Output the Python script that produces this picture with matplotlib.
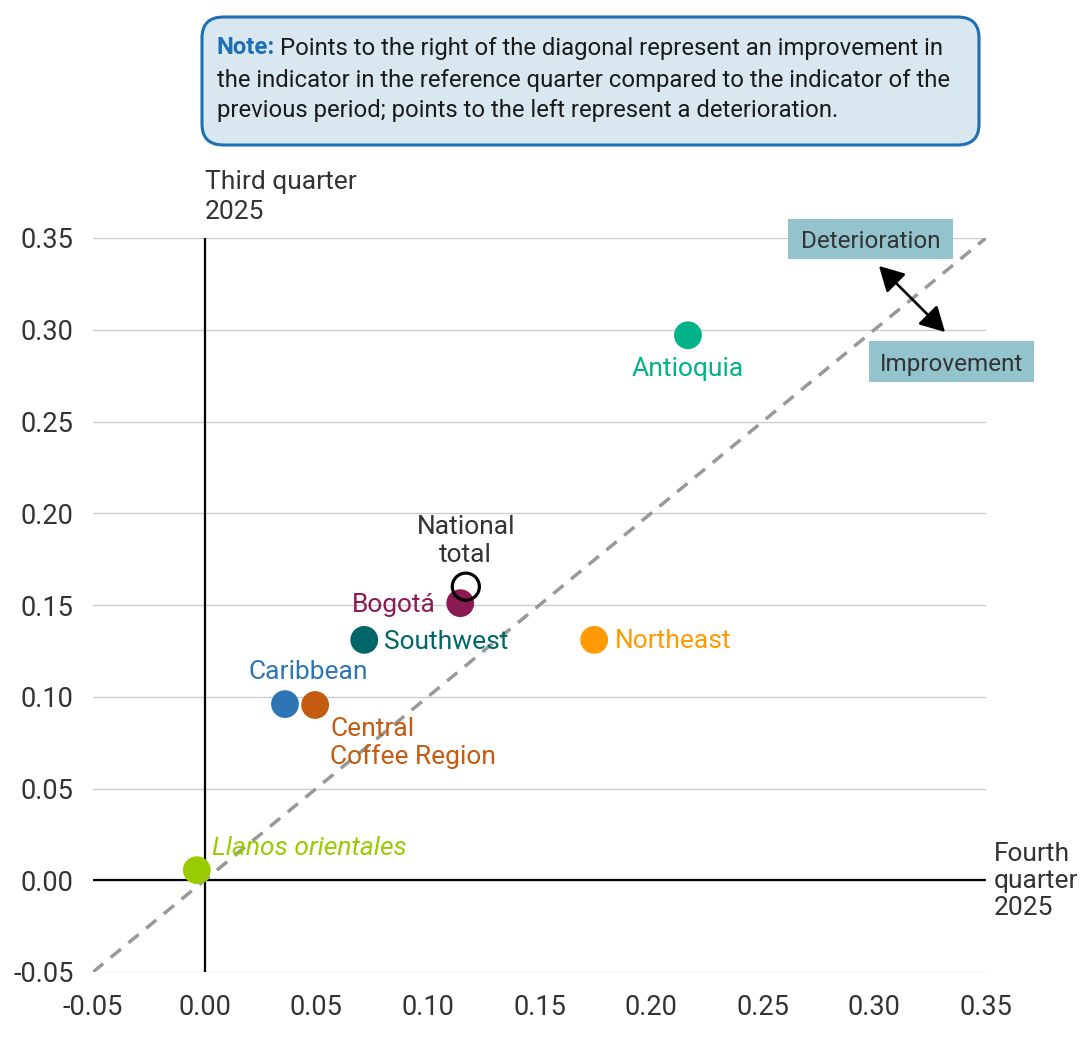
import matplotlib
matplotlib.use("Agg")
import matplotlib.pyplot as plt
from matplotlib.patches import FancyBboxPatch, FancyArrowPatch

plt.rcParams['font.family'] = ['Roboto', 'DejaVu Sans']

regions = ["Antioquia", "Bogotá", "Southwest", "Northeast", "Caribbean",
           "Central\nCoffee Region", "Llanos orientales"]
q4_values = [0.2165, 0.1145, 0.0715, 0.1745, 0.0360, 0.0495, -0.0035]
q3_values = [0.2970, 0.1510, 0.1310, 0.1310, 0.0960, 0.0955, 0.0055]
colors = ["#00b388", "#8c1a52", "#00666a", "#ff9a00", "#2e75b6", "#c55a11", "#99cc00"]

national_label = "National\ntotal"
national_q4 = 0.117
national_q3 = 0.160

ticks = [-0.05, 0.00, 0.05, 0.10, 0.15, 0.20, 0.25, 0.30, 0.35]
tick_labels = ["-0.05", "0.00", "0.05", "0.10", "0.15", "0.20", "0.25", "0.30", "0.35"]

DPI = 100
W, H = 1080, 1037
fig = plt.figure(figsize=(W/DPI, H/DPI), dpi=DPI)
ax = fig.add_axes([93/W, 1 - 972/H, (986-93)/W, (972-238)/H])
ax.set_xlim(-0.05, 0.35)
ax.set_ylim(-0.05, 0.35)

dark = "#333333"
for t in ticks:
    ax.axhline(t, color="#cccccc", lw=1.0, zorder=0)
ax.set_xticks(ticks)
ax.set_xticklabels(tick_labels)
ax.set_yticks(ticks)
ax.set_yticklabels(tick_labels)
ax.tick_params(length=0, labelsize=19.5, colors=dark)
ax.tick_params(axis='y', pad=14)
ax.tick_params(axis='x', pad=16)
for s in ax.spines.values():
    s.set_visible(False)

ax.plot([0, 0], [-0.05, 0.35], color="black", lw=1.6, zorder=2)
ax.plot([-0.05, 0.35], [0, 0], color="black", lw=1.6, zorder=2)
ax.plot([-0.05, 0.35], [-0.05, 0.35], color="#999999", lw=2.5,
        dashes=(3.8, 2.8), zorder=3)

px = 72 / DPI

ax.scatter(q4_values, q3_values, s=400, c=colors, edgecolors="none", zorder=4)
ax.scatter([national_q4], [national_q3], s=380, facecolors="none",
           edgecolors="black", linewidths=2.3, zorder=5)

fs = 19
label_specs = [
    ((0, -34), "center", "center", "normal"),
    ((-24, -2), "right", "center", "normal"),
    ((20, -2), "left", "center", "normal"),
    ((21, -1), "left", "center", "normal"),
    ((23, 32), "center", "center", "normal"),
    ((15, -12), "left", "top", "normal"),
    ((15, 22), "left", "center", "italic"),
]
for name, x, y, c, (off, ha, va, st) in zip(regions, q4_values, q3_values, colors, label_specs):
    ax.annotate(name, (x, y), xytext=(off[0]*px, off[1]*px), textcoords="offset points",
                ha=ha, va=va, color=c, fontsize=fs, style=st, linespacing=1.15, zorder=6)

ax.annotate(national_label, (national_q4, national_q3), xytext=(0, 20*px),
            textcoords="offset points", ha="center", va="bottom", color=dark,
            fontsize=fs, linespacing=1.2, zorder=6)

fig.text(205/W, 1 - 170/H, "Third quarter\n2025", ha="left", va="top",
         fontsize=19, color=dark, linespacing=1.3)
fig.text(994/W, 1 - 842/H, "Fourth\nquarter\n2025", ha="left", va="top",
         fontsize=19, color=dark, linespacing=1.15)

# note box
box = FancyBboxPatch((202/W, 1 - 145/H), (979-202)/W, (145-17)/H,
                     boxstyle="round,pad=0,rounding_size=0.02",
                     transform=fig.transFigure, facecolor="#d9e7f0",
                     edgecolor="#1f6fb5", lw=2.2)
fig.patches.append(box)
note_blue = "#1f6fb5"
nfs = 17.2
t_note = fig.text(217/W, 1 - 48/H, "Note:", ha="left", va="center", fontsize=nfs,
                  color=note_blue, weight="bold")
fig.canvas.draw()
bb = t_note.get_window_extent(fig.canvas.get_renderer())
fig.text((bb.x1 + 5)/W, 1 - 48/H, "Points to the right of the diagonal represent an improvement in",
         ha="left", va="center", fontsize=nfs, color="#1a1a1a")
fig.text(217/W, 1 - 80/H, "the indicator in the reference quarter compared to the indicator of the",
         ha="left", va="center", fontsize=nfs, color="#1a1a1a")
fig.text(217/W, 1 - 111/H, "previous period; points to the left represent a deterioration.",
         ha="left", va="center", fontsize=nfs, color="#1a1a1a")

for (x0, y0, x1, y1, txt) in [(788, 219, 953, 259, "Deterioration"),
                              (869, 341, 1034, 382, "Improvement")]:
    r = FancyBboxPatch((x0/W, 1 - y1/H), (x1-x0)/W, (y1-y0)/H,
                       boxstyle="square,pad=0", transform=fig.transFigure,
                       facecolor="#93c4ce", edgecolor="none")
    fig.patches.append(r)
    fig.text((x0+x1)/2/W, 1 - (y0+y1)/2/H - 3/H, txt, ha="center", va="center",
             fontsize=17.5, color=dark)

fig.add_artist(FancyArrowPatch(
    (877/W, 1 - 264/H), (947/W, 1 - 334/H),
    transform=fig.transFigure, arrowstyle="<|-|>,head_length=10,head_width=5.5",
    color="black", lw=1.9, mutation_scale=1.5))

fig.savefig("out.png", dpi=DPI)
